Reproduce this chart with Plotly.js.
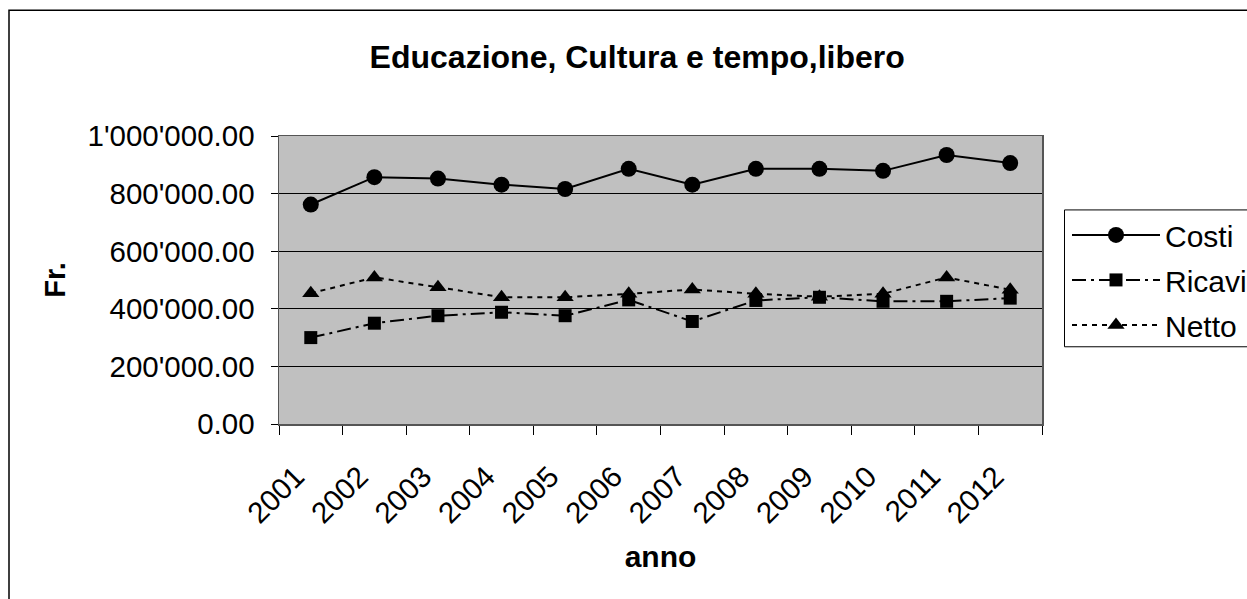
<!DOCTYPE html>
<html>
<head>
<meta charset="utf-8">
<script src="https://cdn.plot.ly/plotly-3.0.1.min.js"></script>
<style>
html,body{margin:0;padding:0;background:#fff;}
#chart{width:1247px;height:599px;}
</style>
</head>
<body>
<div id="chart"></div>
<script>
const anni = ['2001','2002','2003','2004','2005','2006','2007','2008','2009','2010','2011','2012'];
const costi  = [762000, 857000, 852000, 831000, 816000, 886000, 831000, 886000, 886000, 879000, 934000, 906000];
const ricavi = [300000, 350000, 376000, 388000, 376000, 431000, 356000, 429000, 440000, 426000, 426000, 437000];
const netto  = [454000, 509000, 475000, 440000, 440000, 452000, 467000, 452000, 442000, 452000, 509000, 466000];

const FONT = 'Liberation Sans, Arial, sans-serif';
const FS = 29.5;

const traces = [
  {x: anni, y: costi, name: 'Costi', type: 'scatter', mode: 'lines+markers', legendgroup: 'a',
   line: {color: '#000', width: 2, dash: 'solid'},
   marker: {symbol: 'circle', size: 16, color: '#000'}},
  {x: anni, y: ricavi, name: 'Ricavi', type: 'scatter', mode: 'lines+markers', legendgroup: 'b',
   line: {color: '#000', width: 2, dash: '14px,5px,3px,5px'},
   marker: {symbol: 'square', size: 13, color: '#000'}},
  {x: anni, y: netto, name: 'Netto', type: 'scatter', mode: 'lines+markers', legendgroup: 'c',
   line: {color: '#000', width: 2, dash: '5px,5px'},
   marker: {symbol: 'triangle-up', size: 15, color: '#000'}}
];

const L = 279, R = 1042, T = 136, B = 424.3, W = 1247, H = 599;
const pw = R - L, ph = B - T;
const px = v => (v - L) / pw;
const py = v => (B - v) / ph;

const layout = {
  width: W, height: H,
  margin: {l: L, r: W - R, t: T, b: H - B, pad: 0, autoexpand: false},
  paper_bgcolor: '#fff',
  plot_bgcolor: '#c0c0c0',
  separators: ".'",
  font: {family: FONT, size: FS, color: '#000'},
  showlegend: true,
  title: {text: '<b>Educazione, Cultura e tempo,libero</b>', font: {family: FONT, size: 32, color: '#000'},
          x: 0.511, xanchor: 'center', y: 1 - 57/H, yanchor: 'middle'},
  xaxis: {
    type: 'category', range: [-0.5, 11.5], tickson: 'boundaries', ticks: 'outside', ticklen: 9, tickwidth: 1, tickcolor: '#000',
    tickangle: -45, showgrid: false, showline: true, linecolor: '#555', linewidth: 1.5, mirror: true,
    tickfont: {family: FONT, size: FS, color: '#000'},
    ticklabelstandoff: 22, ticklabelshift: -15, automargin: false,
    title: {text: '<b>anno</b>', font: {family: FONT, size: 30, color: '#000'}, standoff: 18},
    zeroline: false
  },
  yaxis: {
    range: [0, 1000000], dtick: 200000, tick0: 0, tickformat: ',.2f', automargin: false,
    ticks: 'outside', ticklen: 7, tickwidth: 1, tickcolor: '#000',
    showgrid: true, gridcolor: '#000', gridwidth: 1,
    showline: true, linecolor: '#555', linewidth: 1.5, mirror: true, zeroline: false,
    tickfont: {family: FONT, size: FS, color: '#000'},
    ticklabelstandoff: 10,
    title: {text: '<b>Fr.</b>', font: {family: FONT, size: 29, color: '#000'}, standoff: 13}
  },
  legend: {
    x: px(1067), xanchor: 'left', y: py(209), yanchor: 'top',
    bgcolor: 'rgba(255,255,255,0)', borderwidth: 0,
    font: {family: FONT, size: 30, color: '#000'},
    itemwidth: 88, tracegroupgap: 3
  },
  shapes: [
    {type: 'rect', xref: 'paper', yref: 'paper', x0: px(9), x1: px(1260), y0: py(620), y1: py(10),
     line: {color: '#000', width: 1.5}, fillcolor: 'rgba(0,0,0,0)', layer: 'below'},
    {type: 'rect', xref: 'paper', yref: 'paper', x0: px(1064.5), x1: px(1260), y0: py(347), y1: py(210),
     line: {color: '#000', width: 1}, fillcolor: '#fff', layer: 'below'}
  ]
};

Plotly.newPlot('chart', traces, layout, {displayModeBar: false, staticPlot: true});
</script>
</body>
</html>
